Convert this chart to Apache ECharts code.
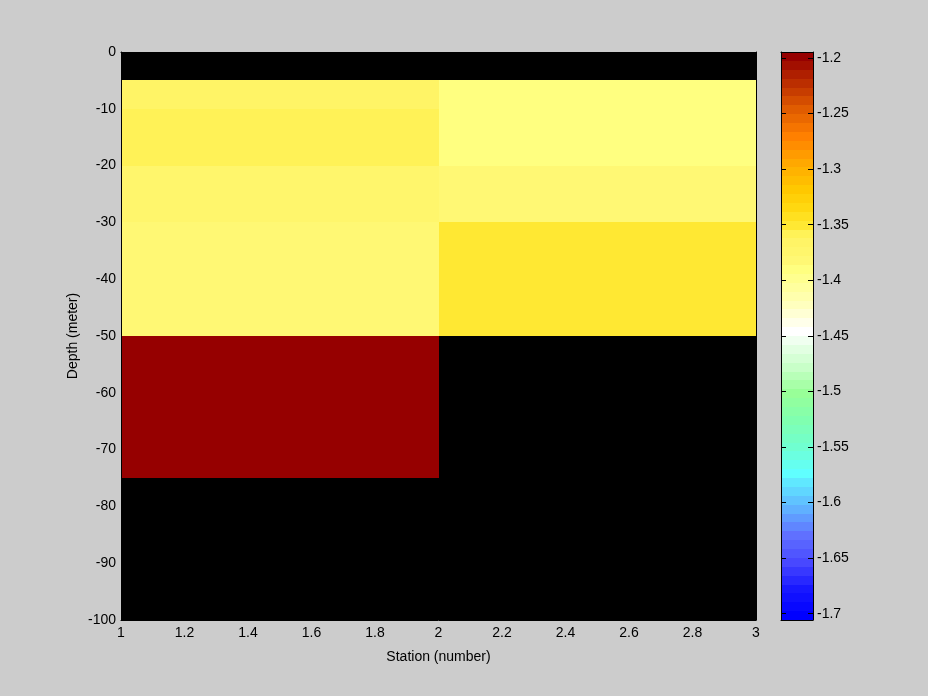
<!DOCTYPE html>
<html><head><meta charset="utf-8">
<script src="https://cdn.jsdelivr.net/npm/echarts@6/dist/echarts.min.js"></script>
<style>html,body{margin:0;padding:0;background:#cccccc}#c{width:928px;height:696px}</style>
</head><body><div id="c"></div>
<script>
// ---- data ----
const stationEdges = [1, 2, 3];
const depthEdges = [0, -5, -10, -20, -30, -50, -75, -100];
const station1Values = [null, -1.366, -1.358, -1.374, -1.382, -1.198, null];
const station2Values = [null, -1.390, -1.390, -1.382, -1.350, null, null];
const colorLimits = [-1.7057, -1.1946];
const colorLevels = 64;
const xAxisTitle = 'Station (number)';
const yAxisTitle = 'Depth (meter)';

// ---- colormap stops (style) ----
const colormapStops = [
  [-1.7018, '#0000ff'], [-1.6779, '#1818ff'], [-1.6539, '#4848ff'], [-1.6300, '#6070ff'],
  [-1.6060, '#60b0ff'], [-1.5820, '#60e8ff'], [-1.5740, '#60ffff'], [-1.5500, '#70ffd0'],
  [-1.5260, '#80ffb0'], [-1.5020, '#98ff98'], [-1.4780, '#c8ffc8'], [-1.4540, '#f0fff0'],
  [-1.4460, '#ffffff'], [-1.4200, '#ffffb8'], [-1.3902, '#ffff80'], [-1.3822, '#fff874'],
  [-1.3742, '#fff66c'], [-1.3663, '#fff466'], [-1.3583, '#fff257'], [-1.3503, '#ffe833'],
  [-1.3423, '#ffe020'], [-1.3343, '#ffd810'], [-1.3184, '#ffc800'], [-1.2944, '#ffa800'],
  [-1.2705, '#ff8000'], [-1.2466, '#e05c00'], [-1.1986, '#960000']
];
function hex2rgb(h){return [parseInt(h.substr(1,2),16),parseInt(h.substr(3,2),16),parseInt(h.substr(5,2),16)];}
function interpColor(v){
  if (v <= colormapStops[0][0]) return colormapStops[0][1];
  const last = colormapStops[colormapStops.length-1];
  if (v >= last[0]) return last[1];
  for (let i=0;i<colormapStops.length-1;i++){
    const a=colormapStops[i], b=colormapStops[i+1];
    if (v>=a[0] && v<=b[0]){
      const f=(v-a[0])/(b[0]-a[0]);
      const ca=hex2rgb(a[1]), cb=hex2rgb(b[1]);
      return 'rgb('+ca.map((c,j)=>Math.round(c+(cb[j]-c)*f)).join(',')+')';
    }
  }
  return last[1];
}
const span = colorLimits[1]-colorLimits[0];
const step = span/colorLevels;
const levelColors = [];
for (let k=0;k<colorLevels;k++){ levelColors.push(interpColor(colorLimits[0]+(k+0.5)*step)); }
function valueColor(v){
  let k=Math.floor((v-colorLimits[0])/span*colorLevels);
  k=Math.max(0,Math.min(colorLevels-1,k));
  return levelColors[k];
}

// cells
const cellData = [];
[station1Values, station2Values].forEach((col, si) => {
  col.forEach((v, di) => {
    if (v === null) return;
    cellData.push([stationEdges[si], stationEdges[si+1], depthEdges[di], depthEdges[di+1], v]);
  });
});
const barData = [];
for (let k=0;k<colorLevels;k++){ barData.push([0, 1, colorLimits[0]+k*step, colorLimits[0]+(k+1)*step, k]); }

function rectBetween(a, b, fill){
  const x0 = Math.round(Math.min(a[0], b[0])), x1 = Math.round(Math.max(a[0], b[0]));
  const y0 = Math.round(Math.min(a[1], b[1])), y1 = Math.round(Math.max(a[1], b[1]));
  return {type: 'rect', shape: {x: x0, y: y0, width: x1-x0, height: y1-y0},
          style: {fill: fill, stroke: null}};
}

const font = 'Liberation Sans, Arial, sans-serif';
const fs = 14;
const chart = echarts.init(document.getElementById('c'), null, {renderer:'canvas'});
chart.setOption({
  animation: false,
  backgroundColor: '#cccccc',
  textStyle: {fontFamily: font},
  grid: [
    {left: 121, top: 52, width: 635, height: 568, show: true, backgroundColor: '#000000', borderWidth: 0},
    {left: 781, top: 52, width: 32, height: 568, show: false}
  ],
  xAxis: [
    {gridIndex: 0, type: 'value', min: 1, max: 3, interval: 0.2, position: 'bottom', z: 5,
     axisLine: {show: true, onZero: false, lineStyle: {color: '#000', width: 1}},
     axisTick: {show: false}, splitLine: {show: false},
     axisLabel: {color: '#000', fontSize: fs, fontFamily: font, margin: 6},
     name: xAxisTitle, nameLocation: 'middle', nameGap: 30, nameMoveOverlap: false,
     nameTextStyle: {color: '#000', fontSize: fs, fontFamily: font}},
    {gridIndex: 0, type: 'value', min: 1, max: 3, position: 'top', z: 5,
     axisLine: {show: true, onZero: false, lineStyle: {color: '#000'}},
     axisTick: {show: false}, axisLabel: {show: false}, splitLine: {show: false}},
    {gridIndex: 1, type: 'value', min: 0, max: 1, position: 'bottom', z: 5,
     axisLine: {show: true, onZero: false, lineStyle: {color: '#000'}},
     axisTick: {show: false}, axisLabel: {show: false}, splitLine: {show: false}},
    {gridIndex: 1, type: 'value', min: 0, max: 1, position: 'top', z: 5,
     axisLine: {show: true, onZero: false, lineStyle: {color: '#000'}},
     axisTick: {show: false}, axisLabel: {show: false}, splitLine: {show: false}}
  ],
  yAxis: [
    {gridIndex: 0, type: 'value', min: -100, max: 0, interval: 10, position: 'left', z: 5,
     axisLine: {show: true, onZero: false, lineStyle: {color: '#000', width: 1}},
     axisTick: {show: false}, splitLine: {show: false},
     axisLabel: {color: '#000', fontSize: fs, fontFamily: font, margin: 5},
     name: yAxisTitle, nameLocation: 'middle', nameGap: 41, nameRotate: 90, nameMoveOverlap: false,
     nameTextStyle: {color: '#000', fontSize: fs, fontFamily: font}},
    {gridIndex: 0, type: 'value', min: -100, max: 0, position: 'right', z: 5,
     axisLine: {show: true, onZero: false, lineStyle: {color: '#000'}},
     axisTick: {show: false}, axisLabel: {show: false}, splitLine: {show: false}},
    {gridIndex: 1, type: 'value', min: colorLimits[0], max: colorLimits[1], minInterval: 0.05, maxInterval: 0.05,
     position: 'left', z: 5,
     axisLine: {show: true, onZero: false, lineStyle: {color: '#000'}},
     axisTick: {show: true, inside: true, length: 5, lineStyle: {color: '#000'}},
     axisLabel: {show: false}, splitLine: {show: false}},
    {gridIndex: 1, type: 'value', min: colorLimits[0], max: colorLimits[1], minInterval: 0.05, maxInterval: 0.05,
     position: 'right', z: 5,
     axisLine: {show: true, onZero: false, lineStyle: {color: '#000'}},
     axisTick: {show: true, inside: true, length: 5, lineStyle: {color: '#000'}},
     axisLabel: {show: true, color: '#000', fontSize: fs, fontFamily: font, margin: 4, showMinLabel: false, showMaxLabel: false},
     splitLine: {show: false}}
  ],
  series: [
    {type: 'custom', xAxisIndex: 0, yAxisIndex: 0, data: cellData, z: 1,
     encode: {x: [0, 1], y: [2, 3]},
     renderItem: function(params, api){
       return rectBetween(api.coord([api.value(0), api.value(2)]), api.coord([api.value(1), api.value(3)]),
                          valueColor(api.value(4)));
     }},
    {type: 'custom', xAxisIndex: 2, yAxisIndex: 2, data: barData, z: 1,
     encode: {x: [0, 1], y: [2, 3]},
     renderItem: function(params, api){
       return rectBetween(api.coord([api.value(0), api.value(3)]), api.coord([api.value(1), api.value(2)]),
                          levelColors[api.value(4)]);
     }}
  ]
});
</script></body></html>
